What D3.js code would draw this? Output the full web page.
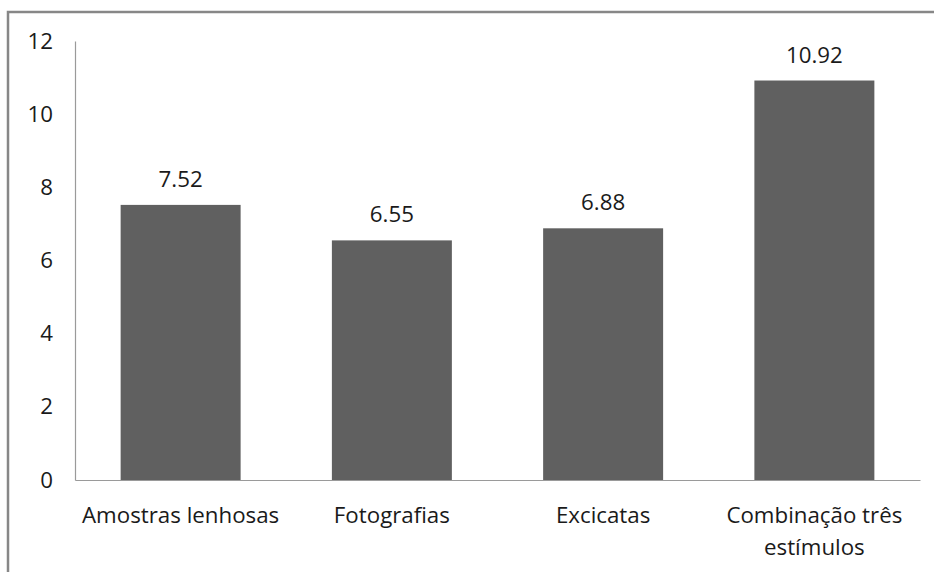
<!DOCTYPE html>
<html>
<head>
<meta charset="utf-8">
<script src="https://cdn.jsdelivr.net/npm/d3@7"></script>
<style>
  html, body { margin: 0; padding: 0; background: #fff; }
  svg { display: block; }
  text { font-family: "Open Sans", Lato, "Liberation Sans", sans-serif; fill: #1a1a1a; }
</style>
</head>
<body>
<svg id="chart" width="934" height="572"></svg>
<script>
const categories = ["Amostras lenhosas", "Fotografias", "Excicatas", "Combinação três estímulos"];
const categoryLines = [["Amostras lenhosas"], ["Fotografias"], ["Excicatas"], ["Combinação três", "estímulos"]];
const values = [7.52, 6.55, 6.88, 10.92];
const valueLabels = ["7.52", "6.55", "6.88", "10.92"];
const yTicks = [0, 2, 4, 6, 8, 10, 12];

const svg = d3.select("#chart");
const W = 934, H = 572;
const FS = 22.3;

// outer chart border (cropped at right and bottom)
svg.append("rect")
  .attr("x", 8).attr("y", 12)
  .attr("width", W + 20).attr("height", H + 20)
  .attr("fill", "none")
  .attr("stroke", "#878787")
  .attr("stroke-width", 2.5);

const plot = { left: 75, right: 920, top: 41, bottom: 480 };

const x = d3.scaleBand()
  .domain(categories)
  .range([plot.left, plot.right])
  .paddingInner(0.432)
  .paddingOuter(0.216);

const y = d3.scaleLinear()
  .domain([0, 12])
  .range([plot.bottom, plot.top]);

// bars
svg.append("g").selectAll("rect")
  .data(categories)
  .join("rect")
  .attr("x", d => x(d))
  .attr("y", (d, i) => y(values[i]))
  .attr("width", x.bandwidth())
  .attr("height", (d, i) => y(0) - y(values[i]))
  .attr("fill", "#606060");

// y axis
const yAxis = d3.axisLeft(y).tickValues(yTicks).tickSize(0).tickPadding(22).tickFormat(d3.format("d"));
const gy = svg.append("g").attr("transform", `translate(${plot.left},0)`).call(yAxis);
gy.select(".domain").attr("stroke", "#9a9a9a").attr("stroke-width", 1.2);
gy.selectAll("text")
  .attr("font-size", FS)
  .attr("font-family", "\"Open Sans\", Lato, sans-serif")
  .attr("fill", "#1a1a1a");

// x axis
const xAxis = d3.axisBottom(x).tickSize(0).tickFormat("");
const gx = svg.append("g").attr("transform", `translate(0,${plot.bottom})`).call(xAxis);
gx.select(".domain").attr("stroke", "#9a9a9a").attr("stroke-width", 1.2);

// category labels
const labels = svg.append("g").selectAll("text")
  .data(categories)
  .join("text")
  .attr("x", d => x(d) + x.bandwidth() / 2)
  .attr("y", 523)
  .attr("text-anchor", "middle")
  .attr("font-size", FS);
labels.each(function(d, i) {
  const t = d3.select(this);
  categoryLines[i].forEach((line, j) => {
    t.append("tspan")
      .attr("x", x(d) + x.bandwidth() / 2)
      .attr("dy", j === 0 ? 0 : 32)
      .text(line);
  });
});

// value labels
svg.append("g").selectAll("text")
  .data(categories)
  .join("text")
  .attr("x", d => x(d) + x.bandwidth() / 2)
  .attr("y", (d, i) => y(values[i]) - 18)
  .attr("text-anchor", "middle")
  .attr("font-size", FS)
  .text((d, i) => valueLabels[i]);
</script>
</body>
</html>
